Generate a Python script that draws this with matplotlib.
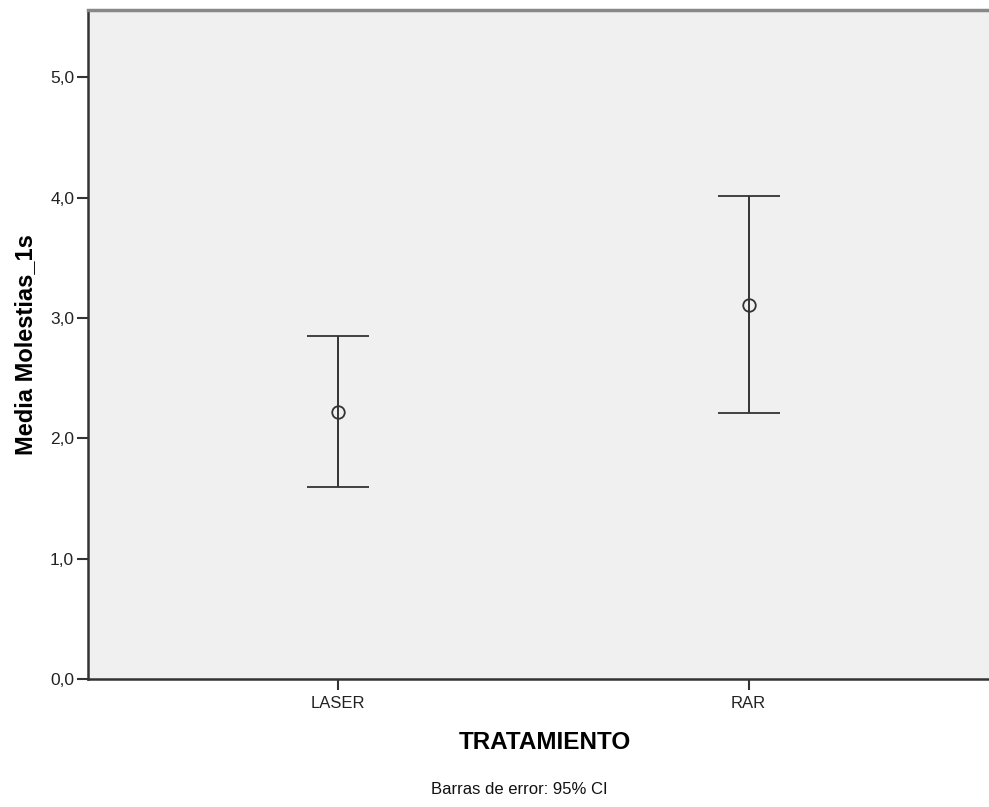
import matplotlib
matplotlib.use("Agg")
import matplotlib.pyplot as plt
from matplotlib.ticker import FuncFormatter

# datos (media e IC 95%)
tratamientos = ["LASER", "RAR"]
medias = [2.22, 3.11]
ic_inf = [1.60, 2.21]
ic_sup = [2.85, 4.01]

plt.rcParams['font.family'] = ['Liberation Sans', 'DejaVu Sans']

fig = plt.figure(figsize=(9.89, 8.07), dpi=100)
ax = fig.add_axes([0.089, 0.158, 0.911, 0.8296])
ax.set_facecolor("#f0f0f0")

pos = list(range(len(tratamientos)))
err_lo = [m - lo for m, lo in zip(medias, ic_inf)]
err_hi = [hi - m for m, hi in zip(medias, ic_sup)]
ax.errorbar(pos, medias, yerr=[err_lo, err_hi], fmt="o", color="#333333",
            mfc="none", mec="#333333", ms=9, mew=1.3, elinewidth=1.4,
            capsize=22.3, capthick=1.6)

ax.set_xlim(-0.607, 1.585)
ax.set_ylim(0, 5.556)
ax.set_xticks(pos)
ax.set_xticklabels(tratamientos)
ax.set_yticks([0, 1, 2, 3, 4, 5])
ax.yaxis.set_major_formatter(FuncFormatter(lambda v, p: ("%.1f" % v).replace(".", ",")))
ax.tick_params(axis="both", labelsize=12, length=8, width=1.5, color="#333333",
               labelcolor="#222222")
ax.tick_params(axis="y", labelsize=12.5, pad=2)
ax.tick_params(axis="x", pad=4)

for s in ["left", "bottom"]:
    ax.spines[s].set_color("#333333")
    ax.spines[s].set_linewidth(1.8)
ax.spines["top"].set_color("#888888")
ax.spines["top"].set_linewidth(2.5)
ax.spines["right"].set_visible(False)

ax.set_xlabel("TRATAMIENTO", fontsize=17.5, fontweight="bold")
ax.xaxis.set_label_coords(0.507, -0.0775)
ax.set_ylabel("Media Molestias_1s", fontsize=17, fontweight="bold", labelpad=9)

fig.text(519 / 989, 1 - 790 / 807, "Barras de error: 95% CI", fontsize=12,
         ha="center", va="center", color="#111111")

fig.savefig("out.png", dpi=100)
